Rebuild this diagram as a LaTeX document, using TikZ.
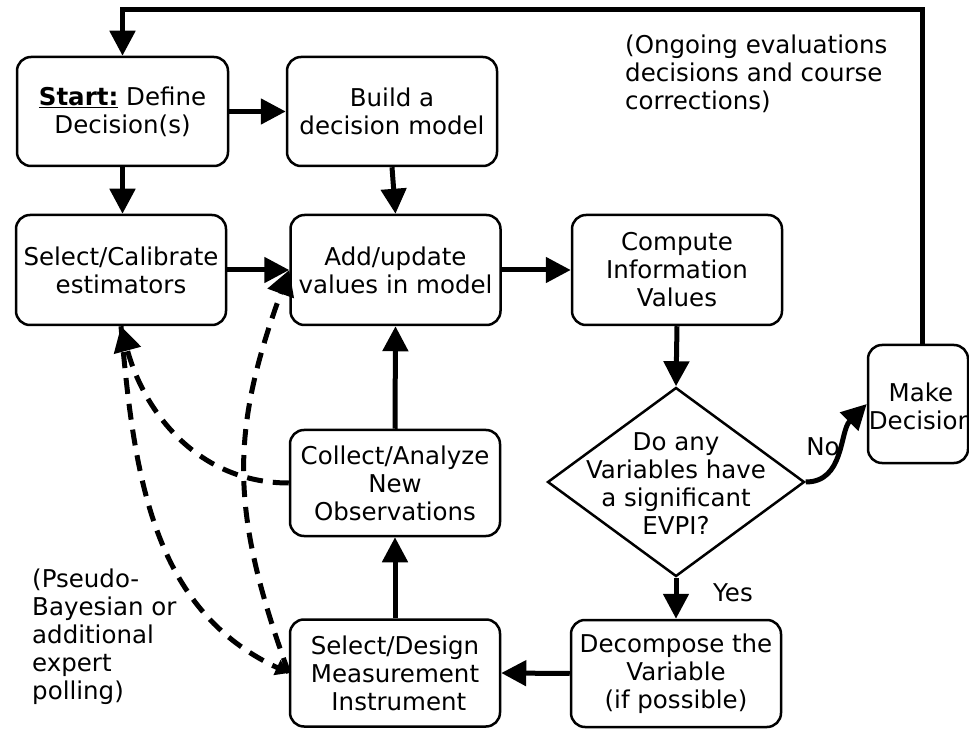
\documentclass[tikz,border=0pt]{standalone}
\usepackage{fontspec}
\setmainfont{DejaVu Sans}
\usetikzlibrary{arrows.meta,shapes.geometric,calc}
\tikzset{
  txt/.style={font=\fontsize{24.5}{28}\selectfont, align=center, inner sep=0pt},
  box/.style={draw, line width=2.5pt, rounded corners=14pt, minimum width=210pt, minimum height=109pt, inner sep=0pt, txt},
  arr/.style={line width=5pt, -{Triangle[length=25pt,width=25pt]}},
  darr/.style={line width=5pt, dash pattern=on 16pt off 10pt, -{Triangle[length=25pt,width=27pt]}},
  sdarr/.style={line width=5pt, dash pattern=on 16pt off 10pt, -{Triangle[length=13pt,width=16pt]}},
}
\begin{document}
\begin{tikzpicture}[x=1pt,y=1pt]
\useasboundingbox (0,0) rectangle (969,729);
\node[box, minimum width=211pt] (start) at (122.5,617.5) {\underline{\textbf{Start:}} Define\\Decision(s)};
\node[box] (build) at (392,617.5) {Build a\\decision model};
\node[box, minimum height=110pt] (selcal) at (121,459) {Select/Calibrate\\estimators};
\node[box, minimum height=110pt] (add) at (395.5,459) {Add/update\\values in model};
\node[box, minimum height=110pt] (comp) at (677,459) {Compute\\Information\\Values};
\node[draw, diamond, line width=2.5pt, minimum width=257pt, minimum height=189pt, inner sep=0pt] (dia) at (676,247) {};
\node[txt] (diatxt) at (676,245) {Do any\\Variables have\\a significant\\EVPI?};
\node[box, minimum height=107pt] (decomp) at (676,55.5) {Decompose the\\Variable\\(if possible)};
\node[box, minimum height=107pt] (seldes) at (395,56) {Select/Design\\Measurement\\\ Instrument};
\node[box, minimum height=106pt] (coll) at (395,246) {Collect/Analyze\\New\\Observations};
\node[box, minimum width=100pt, minimum height=118pt] (make) at (918,325) {};
\node[txt] (maketxt) at (921,323) {Make\\Decision};
\coordinate (top) at (0,719);
\node[txt, anchor=west, align=left] (ongoing) at (625,655) {(Ongoing evaluations\\decisions and course\\corrections)};
\node[txt, anchor=west, align=left] (pseudo) at (32,92) {(Pseudo-\\Bayesian or\\additional\\expert\\polling)};
\node[txt] (yes) at (733,136) {Yes};
\draw[arr] ([xshift=4pt]make.north) -- ([xshift=4pt]make.north |- top) -- (start.north |- top) -- (start.north);
\draw[arr] (start.east) -- (build.west);
\draw[arr] (start.south) -- (start.south |- selcal.north);
\draw[arr] (build.south) -- (add.north);
\draw[arr] (selcal.east) -- (add.west);
\draw[arr] (add.east) -- (comp.west);
\draw[arr] (comp.south) -- (dia.north);
\draw[arr] (dia.south) -- (decomp.north);
\draw[arr] (decomp.west) -- (seldes.east);
\draw[arr] (seldes.north) -- (coll.south);
\draw[arr] (coll.north) -- (add.south);
\draw[arr] (dia.east) to[out=0, in=225] (make.west);
\node[txt] (no) at (823,282) {No};
\draw[darr] (coll.west) to[out=180, in=-75] (selcal.south);
\draw[sdarr] (selcal.south) to[out=-85, in=155] (seldes.west);
\draw[darr] (seldes.west) to[out=110, in=250, looseness=1.1] (add.west);
\end{tikzpicture}
\end{document}
